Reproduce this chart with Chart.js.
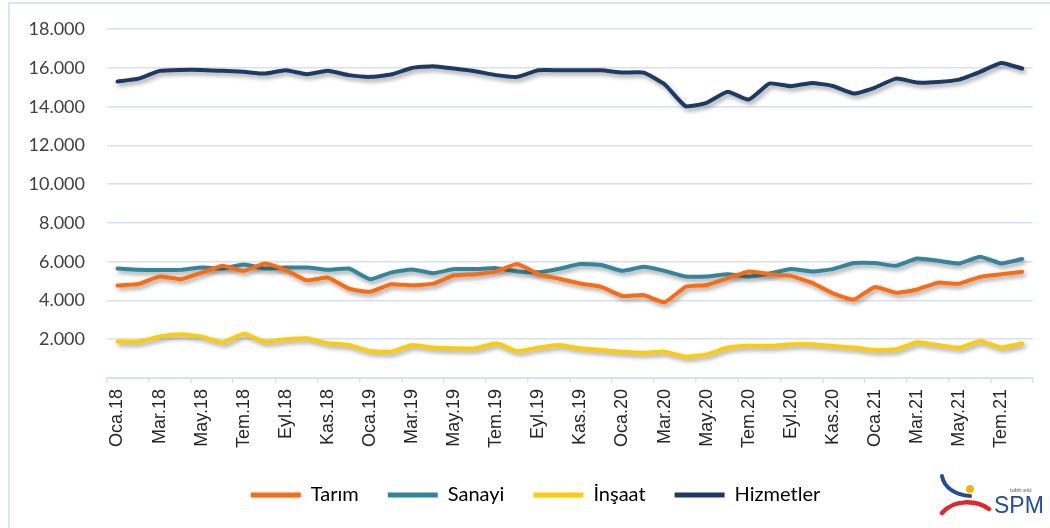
<!DOCTYPE html>
<html>
<head>
<meta charset="utf-8">
<script src="https://cdn.jsdelivr.net/npm/chart.js@4.4.1/dist/chart.umd.min.js"></script>
<style>
  html, body { margin: 0; padding: 0; background: #fff; }
  #wrap { position: relative; width: 1050px; height: 528px; overflow: hidden; }
  #frame { position: absolute; left: 8px; top: 2px; width: 1100px; height: 600px;
           border-left: 2px solid #dbe5f2; border-top: 2px solid #dbe5f2; }
  #logo { position: absolute; left: 934px; top: 468px; }
</style>
</head>
<body>
<div id="wrap">
  <div id="frame"></div>
  <canvas id="chart"></canvas>
  <svg id="logo" width="114" height="58" viewBox="0 0 114 58">
    <path d="M8 8 C10 20, 22 27, 36 28" stroke="#1f4e9c" stroke-width="4" fill="none" stroke-linecap="round"/>
    <circle cx="36" cy="21" r="4" fill="#f7b500"/>
    <path d="M8 45 C20 31, 42 32, 55 41" stroke="#e3262b" stroke-width="4.5" fill="none" stroke-linecap="round"/>
    <text x="76" y="24" font-family="Liberation Sans" font-size="6" fill="#555">tobb etü</text>
    <text x="60" y="45" font-family="Liberation Sans Narrow, Liberation Sans" font-size="23" fill="#1f4e9c">SPM</text>
  </svg>
</div>
<script>
// Aylık istihdam (bin kişi), Ocak 2018 - Ağustos 2021
const months = [
  "Oca.18", "Şub.18", "Mar.18", "Nis.18", "May.18", "Haz.18", "Tem.18", "Ağu.18", "Eyl.18", "Eki.18", "Kas.18", "Ara.18",
  "Oca.19", "Şub.19", "Mar.19", "Nis.19", "May.19", "Haz.19", "Tem.19", "Ağu.19", "Eyl.19", "Eki.19", "Kas.19", "Ara.19",
  "Oca.20", "Şub.20", "Mar.20", "Nis.20", "May.20", "Haz.20", "Tem.20", "Ağu.20", "Eyl.20", "Eki.20", "Kas.20", "Ara.20",
  "Oca.21", "Şub.21", "Mar.21", "Nis.21", "May.21", "Haz.21", "Tem.21", "Ağu.21"
]

const tarim = [
  4780, 4850, 5240, 5100, 5440, 5790, 5530, 5910, 5570, 5040, 5180, 4610,
  4450, 4840, 4780, 4870, 5300, 5360, 5500, 5880, 5360, 5120, 4880, 4700,
  4230, 4280, 3910, 4700, 4800, 5150, 5500, 5360, 5270, 4920, 4370, 4050,
  4700, 4400, 4570, 4920, 4870, 5220, 5360, 5480
]

const sanayi = [
  5650, 5580, 5570, 5580, 5700, 5650, 5860, 5650, 5700, 5700, 5580, 5650,
  5100, 5440, 5600, 5410, 5620, 5620, 5670, 5500, 5460, 5640, 5880, 5830,
  5530, 5740, 5530, 5240, 5240, 5360, 5240, 5390, 5620, 5500, 5620, 5930,
  5930, 5790, 6170, 6050, 5910, 6260, 5910, 6140
]

const insaat = [
  1880, 1880, 2140, 2260, 2140, 1840, 2280, 1880, 2000, 2050, 1790, 1700,
  1390, 1360, 1700, 1570, 1530, 1530, 1790, 1390, 1570, 1700, 1530, 1440,
  1360, 1300, 1360, 1100, 1220, 1570, 1670, 1650, 1740, 1740, 1650, 1570,
  1440, 1480, 1840, 1700, 1570, 1910, 1580, 1790
]

const hizmetler = [
  15300, 15450, 15850, 15900, 15900, 15850, 15800, 15710, 15880, 15680, 15850, 15630,
  15540, 15660, 16000, 16090, 15970, 15830, 15630, 15540, 15880, 15880, 15880, 15880,
  15760, 15760, 15160, 14030, 14200, 14770, 14370, 15200, 15060, 15230, 15070, 14680,
  14990, 15450, 15250, 15280, 15400, 15800, 16260, 15970
]

const gridColor = "#d7e2f1"

function series(label, data, color) {
  return {
    label, data,
    borderColor: color,
    backgroundColor: color,
    borderWidth: 4,
    tension: 0.15,
    pointRadius: 0,
    borderJoinStyle: "round",
    borderCapStyle: "round",
    fill: false
  }
}

// Excel tarzı hafif gölge
const shadow = {
  id: "shadow",
  beforeDatasetsDraw(chart) {
    const ctx = chart.ctx
    ctx.save()
    ctx.shadowColor = "rgba(0,0,0,0.35)"
    ctx.shadowBlur = 4
    ctx.shadowOffsetX = 2
    ctx.shadowOffsetY = 3
  },
  afterDatasetsDraw(chart) {
    chart.ctx.restore()
  }
}

// lejant çizim alanına göre ortalı, biraz sağa kaydır
const legendShift = {
  id: "legendShift",
  afterLayout(chart) {
    if (chart.legend) chart.legend.left += 38
  }
}

const thousands = (v) => String(v).replace(/\B(?=(\d{3})+(?!\d))/g, ".")

new Chart(document.getElementById("chart"), {
  type: "line",
  data: {
    labels: months,
    datasets: [
      series("Tarım", tarim, "#ff6a0d"),
      series("Sanayi", sanayi, "#31859c"),
      series("İnşaat", insaat, "#ffcc00"),
      series("Hizmetler", hizmetler, "#1b3a65")
    ]
  },
  options: {
    responsive: true,
    maintainAspectRatio: false,
    animation: false,
    layout: { padding: { left: 0, right: 17, top: 10, bottom: 13 } },
    plugins: {
      tooltip: { enabled: false },
      legend: {
        position: "bottom",
        labels: {
          boxWidth: 50,
          boxHeight: 5,
          padding: 29,
          color: "#404040",
          font: { family: "Lato", size: 20 },
          generateLabels: (chart) => chart.data.datasets.map((ds, i) => ({
            text: ds.label,
            fillStyle: ds.borderColor,
            strokeStyle: ds.borderColor,
            lineWidth: 0,
            datasetIndex: i,
            hidden: false
          }))
        }
      }
    },
    scales: {
      x: {
        offset: true,
        afterFit: (scale) => { scale.height = 78 },
        grid: {
          offset: true,
          drawOnChartArea: false,
          drawTicks: true,
          tickLength: 5,
          lineWidth: 1.5,
          color: (c) => (c.index === undefined || c.index % 2 === 0) ? gridColor : "rgba(0,0,0,0)"
        },
        border: { color: gridColor, width: 2 },
        ticks: {
          autoSkip: false,
          minRotation: 90,
          maxRotation: 90,
          padding: 6,
          color: "#262626",
          font: { family: "Liberation Sans", size: 18 },
          callback: (v, i) => i % 2 === 0 ? months[i] : ""
        }
      },
      y: {
        min: 0,
        max: 18000,
        afterFit: (scale) => { scale.width = 107 },
        grid: { color: gridColor, lineWidth: 1.5, drawTicks: false },
        border: { display: false },
        ticks: {
          stepSize: 2000,
          padding: 22,
          color: "#404040",
          font: { family: "Lato", size: 18, lineHeight: 0.8 },
          callback: (v) => v === 0 ? "" : thousands(v)
        }
      }
    }
  },
  plugins: [shadow, legendShift]
})
</script>
</body>
</html>
